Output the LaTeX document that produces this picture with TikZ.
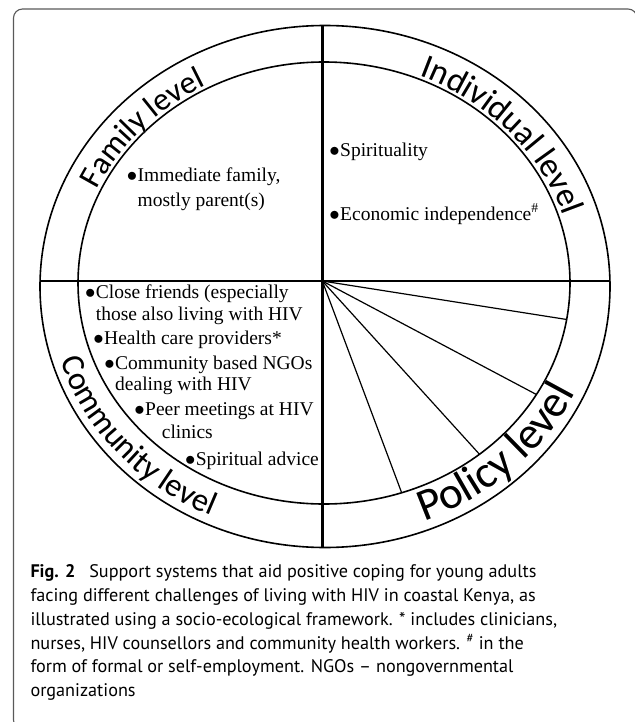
\documentclass[tikz,border=0pt]{standalone}
\usepackage{fontspec}
\setmainfont{Liberation Serif}
\newfontfamily\ringfont{Carlito}
\newfontfamily\capfont{PT Sans}
\usepackage{tikz}
\usetikzlibrary{calc}
\usetikzlibrary{decorations.text}

\begin{document}
\begin{tikzpicture}[x=1pt, y=1pt,
        frame/.style={draw=black!65, line width=1.1, rounded corners=9},
        ring/.style={line width=1.6},
        axis/.style={line width=2.4},
        spoke/.style={line width=1.2},
        item/.style={anchor=base west, inner sep=0, font=\fontsize{19.5}{23}\selectfont},
        capline/.style={anchor=base west, inner sep=0, font=\capfont\fontsize{18.2}{24}\selectfont},
        level/.style={decorate, decoration={text along path, text align=center, text={#1}}}]
        \useasboundingbox (0,0) rectangle (634,-722);
        \draw[frame] (13.5,-9) rectangle (637,-729);
        % the two rings
        \coordinate (outer) at (325,-286.5);
        \coordinate (inner) at (324,-283);
        \coordinate (mid) at (324.5,-285);
        \draw[ring] (outer) ellipse [x radius=285, y radius=261];
        \draw[ring] (inner) ellipse [x radius=246, y radius=221];
        % quadrants
        \coordinate (hub) at (322.3,-281);
        \coordinate (north) at (322.3,-25.5);
        \coordinate (south) at (322.3,-547.5);
        \coordinate (west) at (40,-281);
        \coordinate (east) at (610,-281);
        \draw[axis] (north) -- (south);
        \draw[axis] (west) -- (east);
        \coordinate (s1) at ($(inner)+(-9.5:246 and 221)$);
        \coordinate (s2) at ($(inner)+(-30.3:246 and 221)$);
        \coordinate (s3) at ($(inner)+(-50.8:246 and 221)$);
        \coordinate (s4) at ($(inner)+(-71.6:246 and 221)$);
        \draw[spoke] (hub) -- (s1);
        \draw[spoke] (hub) -- (s2);
        \draw[spoke] (hub) -- (s3);
        \draw[spoke] (hub) -- (s4);
        % level names in the outer ring
        \path[level={|\ringfont\fontsize{32}{32}\selectfont\color{black!30}|Family level}, xshift=1.3, yshift=-1.3] (mid) ++(177.5:251 and 226) arc[start angle=177.5, end angle=97.5, x radius=251, y radius=226];
        \path[level={|\ringfont\fontsize{32}{32}\selectfont|Family level}] (mid) ++(177.5:251 and 226) arc[start angle=177.5, end angle=97.5, x radius=251, y radius=226];
        \path[level={|\ringfont\fontsize{34}{34}\selectfont\color{black!30}|Individual level}, xshift=1.3, yshift=-1.3] (mid) ++(82:251 and 226) arc[start angle=82, end angle=2, x radius=251, y radius=226];
        \path[level={|\ringfont\fontsize{34}{34}\selectfont|Individual level}] (mid) ++(82:251 and 226) arc[start angle=82, end angle=2, x radius=251, y radius=226];
        \path[level={|\ringfont\fontsize{32.5}{32.5}\selectfont\color{black!30}|Community level}, xshift=1.3, yshift=-1.3] (mid) ++(181:277 and 253) arc[start angle=181, end angle=261, x radius=277, y radius=253];
        \path[level={|\ringfont\fontsize{32.5}{32.5}\selectfont|Community level}] (mid) ++(181:277 and 253) arc[start angle=181, end angle=261, x radius=277, y radius=253];
        \path[level={|\ringfont\fontsize{45}{45}\selectfont\color{black!30}|Policy level}, xshift=1.3, yshift=-1.3] (mid) ++(-86.4:277 and 253) arc[start angle=-86.4, end angle=-6.4, x radius=277, y radius=253];
        \path[level={|\ringfont\fontsize{45}{45}\selectfont|Policy level}] (mid) ++(-86.4:277 and 253) arc[start angle=-86.4, end angle=-6.4, x radius=277, y radius=253];
        % family
        \node(famA) [item] at (137.5,-181.5) {\llap{$\bullet$\hspace{0.5pt}}Immediate family,};
        \node(famB) [item] at (137.5,-206.5) {mostly parent(s)};
        % individual
        \node(indA) [item] at (340,-157) {\llap{$\bullet$\hspace{0.5pt}}Spirituality};
        \node(indB) [item] at (340,-220.5) {\llap{$\bullet$\hspace{0.5pt}}Economic independence\textsuperscript{\#}};
        % community
        \node(comA) [item] at (95.7,-298.3) {\llap{$\bullet$\hspace{0.5pt}}Close friends (especially};
        \node(comB) [item] at (95.7,-320) {those also living with HIV};
        \node(comC) [item] at (104,-344) {\llap{$\bullet$\hspace{0.5pt}}Health care providers*};
        \node(comD) [item] at (115,-369) {\llap{$\bullet$\hspace{0.5pt}}Community based NGOs};
        \node(comE) [item] at (115,-390.7) {dealing with HIV};
        \node(comF) [item] at (145,-415.7) {\llap{$\bullet$\hspace{0.5pt}}Peer meetings at HIV};
        \node(comG) [item] at (161.7,-438.3) {clinics};
        \node(comH) [item] at (195.7,-465) {\llap{$\bullet$\hspace{0.5pt}}Spiritual advice};
        % caption
        \node(capA) [capline] at (30.3,-577) {\textbf{Fig. 2}\hspace{14pt}Support systems that aid positive coping for young adults};
        \node(capB) [capline] at (30.3,-601) {facing different challenges of living with HIV in coastal Kenya, as};
        \node(capC) [capline] at (30.3,-625) {illustrated using a socio-ecological framework. * includes clinicians,};
        \node(capD) [capline] at (30.3,-649) {nurses, HIV counsellors and community health workers. \textsuperscript{\#} in the};
        \node(capE) [capline] at (30.3,-672.5) {form of formal or self-employment. NGOs \textendash{} nongovernmental};
        \node(capF) [capline] at (30.3,-696.5) {organizations};
    \end{tikzpicture}
\end{document}
